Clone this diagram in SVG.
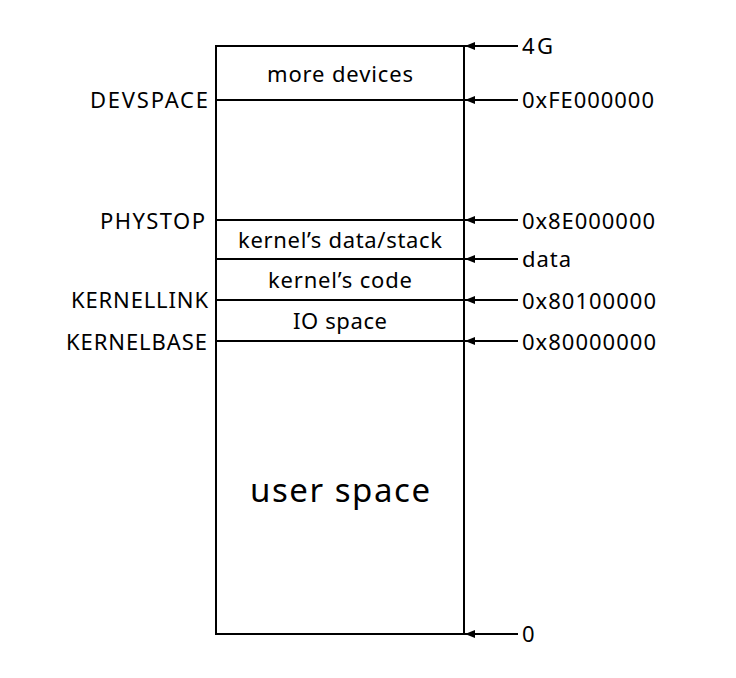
<svg xmlns="http://www.w3.org/2000/svg" width="736" height="678" viewBox="0 0 736 678">
<defs>
<marker id="ah" viewBox="0 0 10 8" refX="10" refY="4" markerWidth="10" markerHeight="8" markerUnits="userSpaceOnUse" orient="auto">
<path d="M0,0 L10,4 L0,8 Z" fill="#000"/>
</marker>
<style>
text{font-family:"Noto Sans","Open Sans","Liberation Sans",sans-serif;font-size:22px;fill:#000}
.l{text-anchor:end}
.c{text-anchor:middle}
.div{stroke:#000;stroke-width:2;fill:none}
.arr{stroke:#000;stroke-width:2;fill:none;marker-end:url(#ah)}
</style>
</defs>
<rect width="736" height="678" fill="#fff"/>
<g id="memory">
<rect x="216" y="46" width="248" height="588" class="div"/>
<line x1="216" y1="100" x2="464" y2="100" class="div"/>
<line x1="216" y1="220" x2="464" y2="220" class="div"/>
<line x1="216" y1="259" x2="464" y2="259" class="div"/>
<line x1="216" y1="300" x2="464" y2="300" class="div"/>
<line x1="216" y1="341" x2="464" y2="341" class="div"/>
</g>
<g id="regions">
<text class="c" x="340" y="82" textLength="146">more devices</text>
<text class="c" x="340" y="248" textLength="204">kernel’s data/stack</text>
<text class="c" x="340" y="288" textLength="144">kernel’s code</text>
<text class="c" x="340" y="329" textLength="94">IO space</text>
<text class="c" x="340" y="502" style="font-size:33px" textLength="180">user space</text>
</g>
<g id="left-labels">
<text class="l" x="208" y="108" textLength="118">DEVSPACE</text>
<text class="l" x="205" y="229" textLength="105">PHYSTOP</text>
<text class="l" x="208" y="308" textLength="137">KERNELLINK</text>
<text class="l" x="207" y="350" textLength="141">KERNELBASE</text>
</g>
<g id="connectors">
<line x1="518" y1="46" x2="465" y2="46" class="arr"/>
<line x1="518" y1="100" x2="465" y2="100" class="arr"/>
<line x1="518" y1="220" x2="465" y2="220" class="arr"/>
<line x1="518" y1="259" x2="465" y2="259" class="arr"/>
<line x1="518" y1="300" x2="465" y2="300" class="arr"/>
<line x1="518" y1="341" x2="465" y2="341" class="arr"/>
<line x1="518" y1="634" x2="465" y2="634" class="arr"/>
</g>
<g id="addresses">
<text x="522" y="54" textLength="31">4G</text>
<text x="522" y="108" textLength="132">0xFE000000</text>
<text x="522" y="229" textLength="133">0x8E000000</text>
<text x="522" y="267" textLength="49">data</text>
<text x="522" y="309" textLength="134">0x80100000</text>
<text x="522" y="350" textLength="134">0x80000000</text>
<text x="522" y="642" textLength="13">0</text>
</g>
</svg>
